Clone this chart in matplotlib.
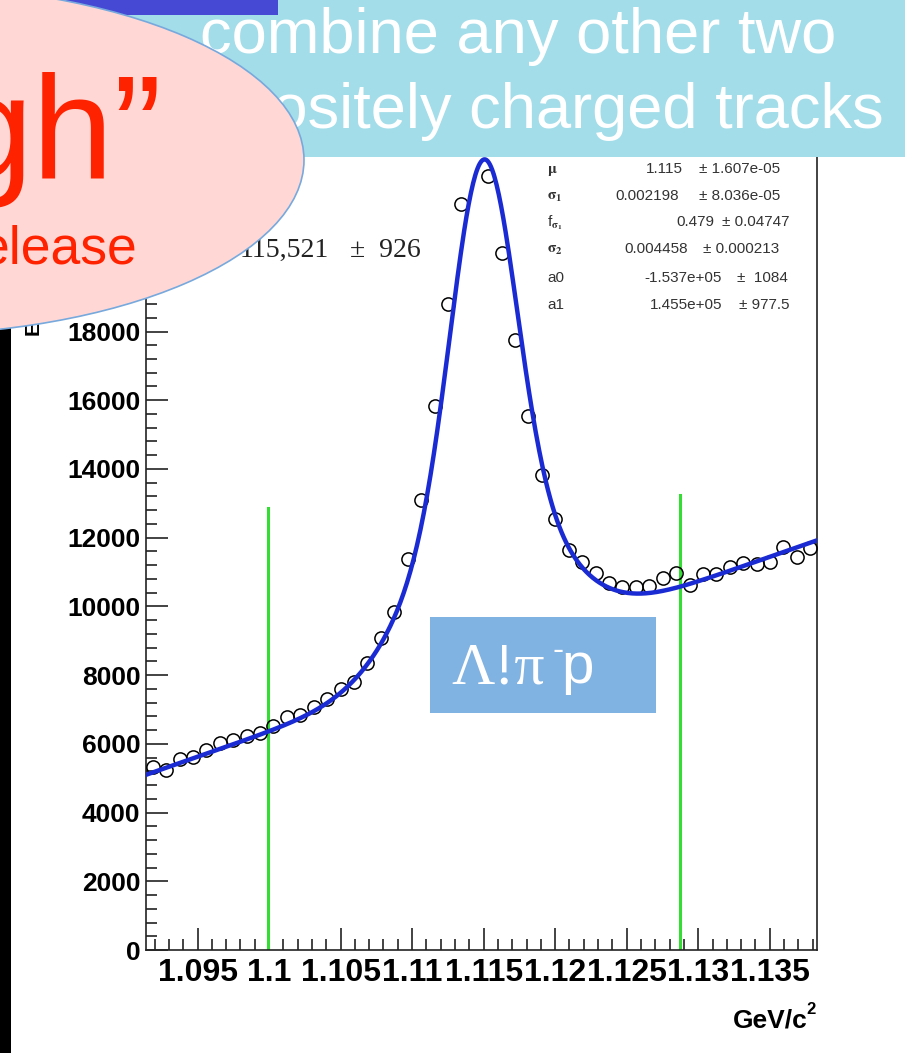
import numpy as np
import matplotlib.pyplot as plt
from matplotlib.patches import Ellipse, Rectangle
from matplotlib.ticker import MultipleLocator, FuncFormatter

W, H = 905, 1053

# histogram range and bin contents (50 bins)
x_lo, x_hi = 1.0914, 1.1383
counts = [5340, 5240, 5550, 5610, 5820, 6020, 6110, 6230, 6310, 6520,
          6790, 6840, 7080, 7300, 7600, 7800, 8350, 9080, 9830, 11370,
          13110, 15830, 18790, 21710, 23500, 22530, 20280, 17740, 15550, 13830,
          12540, 11630, 11300, 10980, 10690, 10560, 10560, 10600, 10820, 10980,
          10630, 10940, 10940, 11160, 11270, 11240, 11300, 11720, 11450, 11690]

# fit parameters as printed in the stats box
mu, sigma1, f_sigma1, sigma2 = 1.115, 0.002198, 0.479, 0.004458
a0, a1 = -1.537e5, 1.455e5
n_signal = 115521

# green mass window lines
window_x = [1.0999, 1.1287]
window_top = [12870, 13250]

stat_names = [r'$\mathrm{\mu}$', r'$\mathrm{\sigma}_1$', r'f$_{\mathrm{\sigma}_1}$',
              r'$\mathrm{\sigma}_2$', 'a0', 'a1']
stat_values = ['1.115', '0.002198', '0.479', '0.004458', '-1.537e+05', '1.455e+05']
stat_errors = ['± 1.607e-05', '± 8.036e-05', '± 0.04747', '± 0.000213', '±  1084', '± 977.5']


def fx(px):
    return px / W


def fy(py):
    return 1 - py / H


plt.rcParams['font.family'] = ['Liberation Sans', 'DejaVu Sans']
plt.rcParams['font.weight'] = 'bold'
plt.rcParams['mathtext.fontset'] = 'stix'

fig = plt.figure(figsize=(W / 100, H / 100), dpi=100)
fig.patch.set_facecolor('white')
ax = fig.add_axes([fx(146), fy(950), (817 - 146) / W, (950 - 91) / H])

edges = np.linspace(x_lo, x_hi, len(counts) + 1)
centers = 0.5 * (edges[:-1] + edges[1:])
bw = edges[1] - edges[0]

# fit curve: double gaussian + linear background, with the box parameters
xs = np.linspace(x_lo, x_hi, 600)
g1 = np.exp(-0.5 * ((xs - mu) / sigma1) ** 2) / (np.sqrt(2 * np.pi) * sigma1)
g2 = np.exp(-0.5 * ((xs - mu) / sigma2) ** 2) / (np.sqrt(2 * np.pi) * sigma2)
ys = a0 + a1 * xs + n_signal * bw * (f_sigma1 * g1 + (1 - f_sigma1) * g2)

ax.plot(centers, counts, 'o', mfc='none', mec='black', ms=9.5, mew=1.1, zorder=3)
ax.plot(xs, ys, color='#1B2BD3', lw=3.2, zorder=4)
for x, top in zip(window_x, window_top):
    ax.plot([x, x], [0, top], color='#33DD33', lw=2.2, zorder=2)

ax.set_xlim(x_lo, x_hi)
ax.set_ylim(0, 25000)
ax.xaxis.set_major_locator(MultipleLocator(0.005))
ax.xaxis.set_minor_locator(MultipleLocator(0.001))
ax.yaxis.set_major_locator(MultipleLocator(2000))
ax.yaxis.set_minor_locator(MultipleLocator(400))
ax.xaxis.set_major_formatter(FuncFormatter(lambda v, p: '%g' % round(v, 4)))
ax.yaxis.set_major_formatter(FuncFormatter(lambda v, p: '%d' % v))
ax.tick_params(which='major', direction='in', length=16, width=1.2, color='#222222')
ax.tick_params(which='minor', direction='in', length=8, width=1.2, color='#222222')
ax.tick_params(axis='x', labelsize=23, pad=6)
ax.tick_params(axis='y', labelsize=19, pad=4)
for s in ax.spines.values():
    s.set_linewidth(1.2)
    s.set_color('#222222')

fig.text(fx(808), fy(1028), 'GeV/c', ha='right', va='baseline', fontsize=19)
fig.text(fx(806.5), fy(1014), '2', ha='left', va='baseline', fontsize=12)
fig.text(fx(34), fy(336), 'Events / ( 0.000938 )', rotation=90, ha='center', va='bottom',
         fontsize=15, zorder=1)

# yield and stats box
fig.text(fx(240), fy(257), '115,521', family='Liberation Serif', weight='normal',
         fontsize=20, color='#222222', zorder=1)
fig.text(fx(350), fy(257), '±  926', family='Liberation Serif', weight='normal',
         fontsize=20, color='#222222', zorder=1)
stat_rows = [172.7, 200, 226, 253.3, 281.7, 309.3]
value_right = [683, 679, 714, 688, 722, 722]
error_left = [699, 699, 722, 703, 737, 739]
for i in range(len(stat_names)):
    base = fy(stat_rows[i])
    fig.text(fx(547), base, stat_names[i], fontsize=11, weight='normal', color='#333333')
    fig.text(fx(value_right[i]), base, stat_values[i], ha='right', fontsize=11,
             weight='normal', color='#333333')
    fig.text(fx(error_left[i]), base, stat_errors[i], fontsize=11, weight='normal',
             color='#333333')

# slide overlays
fig.patches.append(Rectangle((0, fy(1053)), 11 / W, (1053 - 300) / H, transform=fig.transFigure,
                             fc='black', ec='none', zorder=2))
fig.patches.append(Rectangle((0, fy(157)), 1, 157 / H,
                             transform=fig.transFigure, fc='#A2DDE9', ec='none', zorder=2))
fig.patches.append(Rectangle((0, fy(15)), 278 / W, 15 / H, transform=fig.transFigure,
                             fc='#4649D3', ec='none', zorder=2))
fig.text(fx(200), fy(52.7), 'combine any other two', color='white', weight='normal',
         fontsize=45.5, va='baseline', zorder=3)
fig.text(fx(884), fy(128), 'oppositely charged tracks', color='white', weight='normal',
         fontsize=45.5, ha='right', va='baseline', zorder=3)

fig.patches.append(Ellipse((fx(-104), fy(160)), 816 / W, 350 / H, transform=fig.transFigure,
                           fc='#FFD8D6', ec='#77A9DD', lw=1.2, zorder=4))
fig.text(fx(163), fy(178), 'gh\u201d', color='#FF2200', weight='normal', fontsize=105,
         ha='right', va='baseline', zorder=5)
fig.text(fx(137), fy(263.3), 'elease', color='#FF2200', weight='normal', fontsize=38.5,
         ha='right', va='baseline', zorder=5)

fig.patches.append(Rectangle((fx(430), fy(713)), (656 - 430) / W, (713 - 617) / H,
                             transform=fig.transFigure, fc='#80B2E2', ec='none', zorder=2))
fig.text(fx(451), fy(683), '\u039b!\u03c0', family='Liberation Serif', weight='normal',
         fontsize=43, color='white', va='baseline', zorder=3)
fig.text(fx(552), fy(660), '-', weight='normal', fontsize=24, color='white',
         va='baseline', zorder=3)
fig.text(fx(561), fy(683), 'p', weight='normal', fontsize=42, color='white',
         va='baseline', zorder=3)

fig.savefig('out.png', dpi=100)
